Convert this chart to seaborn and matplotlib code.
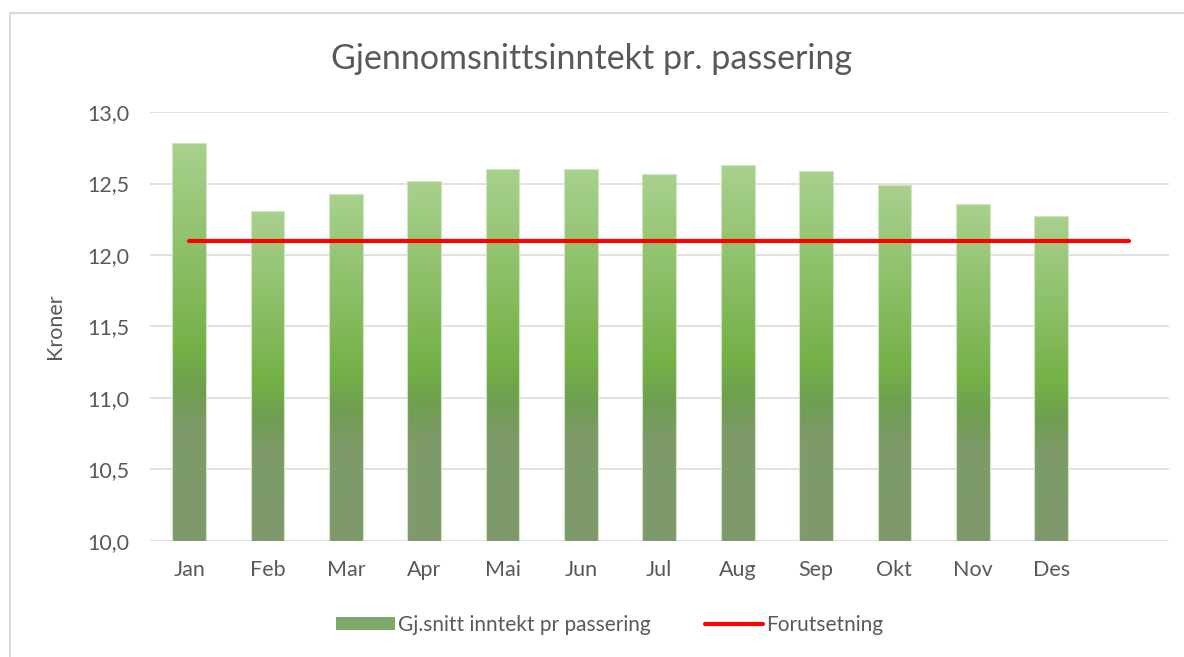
import numpy as np
import pandas as pd
import seaborn as sns
import matplotlib.pyplot as plt
from matplotlib.colors import LinearSegmentedColormap
from matplotlib.patches import Patch
from matplotlib.lines import Line2D

# data
maaneder = ['Jan', 'Feb', 'Mar', 'Apr', 'Mai', 'Jun', 'Jul', 'Aug', 'Sep', 'Okt', 'Nov', 'Des']
inntekt = [12.78, 12.31, 12.43, 12.52, 12.60, 12.60, 12.57, 12.63, 12.59, 12.49, 12.36, 12.27]
kategorier = maaneder + [' ']          # extra empty slot at the end
forutsetning = [12.1] * len(kategorier)
yticks = [10.0, 10.5, 11.0, 11.5, 12.0, 12.5, 13.0]

sns.set_theme(style='white')
plt.rcParams['font.family'] = ['Lato', 'DejaVu Sans']
grey = '#595959'

fig = plt.figure(figsize=(11.84, 6.57), dpi=100)
ax = fig.add_axes([0.1267, 0.1766, 0.8603, 0.6529])

df = pd.DataFrame({'maaned': maaneder, 'inntekt': inntekt})
sns.barplot(data=df, x='maaned', y='inntekt', order=kategorier, width=0.43,
            color='#7fa86a', ax=ax, zorder=2)

# gradient fill inside each bar
grad = LinearSegmentedColormap.from_list('g', [
    (0.0, '#7f9b6d'), (0.28, '#7d9a68'), (0.38, '#6f9f50'),
    (0.48, '#74b047'), (1.0, '#a9d18e')])
g = np.linspace(0, 1, 256).reshape(-1, 1)
for p in ax.patches:
    x0, y0 = p.get_x(), p.get_y()
    w, h = p.get_width(), p.get_height()
    if not np.isfinite(h) or h == 0:
        continue
    im = ax.imshow(g, cmap=grad, origin='lower', aspect='auto',
                   extent=[x0, x0 + w, 10.0, y0 + h], zorder=2)
    im.set_clip_path(p)
    p.set_facecolor('none')
    p.set_edgecolor('#cfe6c0')
    p.set_linewidth(0.8)
    p.set_zorder(3)

ax.plot(np.arange(len(kategorier)), forutsetning, color='#ff0000', lw=3, zorder=4)

ax.set_xlim(-0.5, len(kategorier) - 0.5)
ax.set_ylim(10.0, 13.0)
ax.set_yticks(yticks)
ax.set_yticklabels([f'{v:.1f}'.replace('.', ',') for v in yticks])
ax.grid(axis='y', color='#d9d9d9', lw=1.1, zorder=0)
ax.set_axisbelow(True)
for s in ax.spines.values():
    s.set_visible(False)
ax.tick_params(axis='both', length=0, labelsize=15.5, labelcolor=grey)
ax.tick_params(axis='y', pad=15)
ax.tick_params(axis='x', pad=14)
ax.set_xlabel('')
ax.set_ylabel('Kroner', fontsize=15.5, color=grey, labelpad=16)

fig.text(0.5, 0.91, 'Gjennomsnittsinntekt pr. passering', ha='center', va='center',
         fontsize=24.5, color=grey)

handles = [Patch(facecolor='#7fa86a', edgecolor='none'),
           Line2D([0], [0], color='#ff0000', lw=3)]
fig.legend(handles, ['Gj.snitt inntekt pr passering', 'Forutsetning'],
           loc='center', bbox_to_anchor=(0.515, 0.049), ncol=2, frameon=False,
           fontsize=15, labelcolor=grey, handlelength=2.8, handleheight=0.55,
           columnspacing=2.6, handletextpad=0.15)

# light frame of the chart area
fig.add_artist(Line2D([10 / 1184, 1.0], [1 - 13 / 657, 1 - 13 / 657],
                      transform=fig.transFigure, color='#d9d9d9', lw=1.5))
fig.add_artist(Line2D([10 / 1184, 10 / 1184], [0.0, 1 - 13 / 657],
                      transform=fig.transFigure, color='#d9d9d9', lw=1.5))

fig.savefig('out.png', dpi=100, facecolor='white')
